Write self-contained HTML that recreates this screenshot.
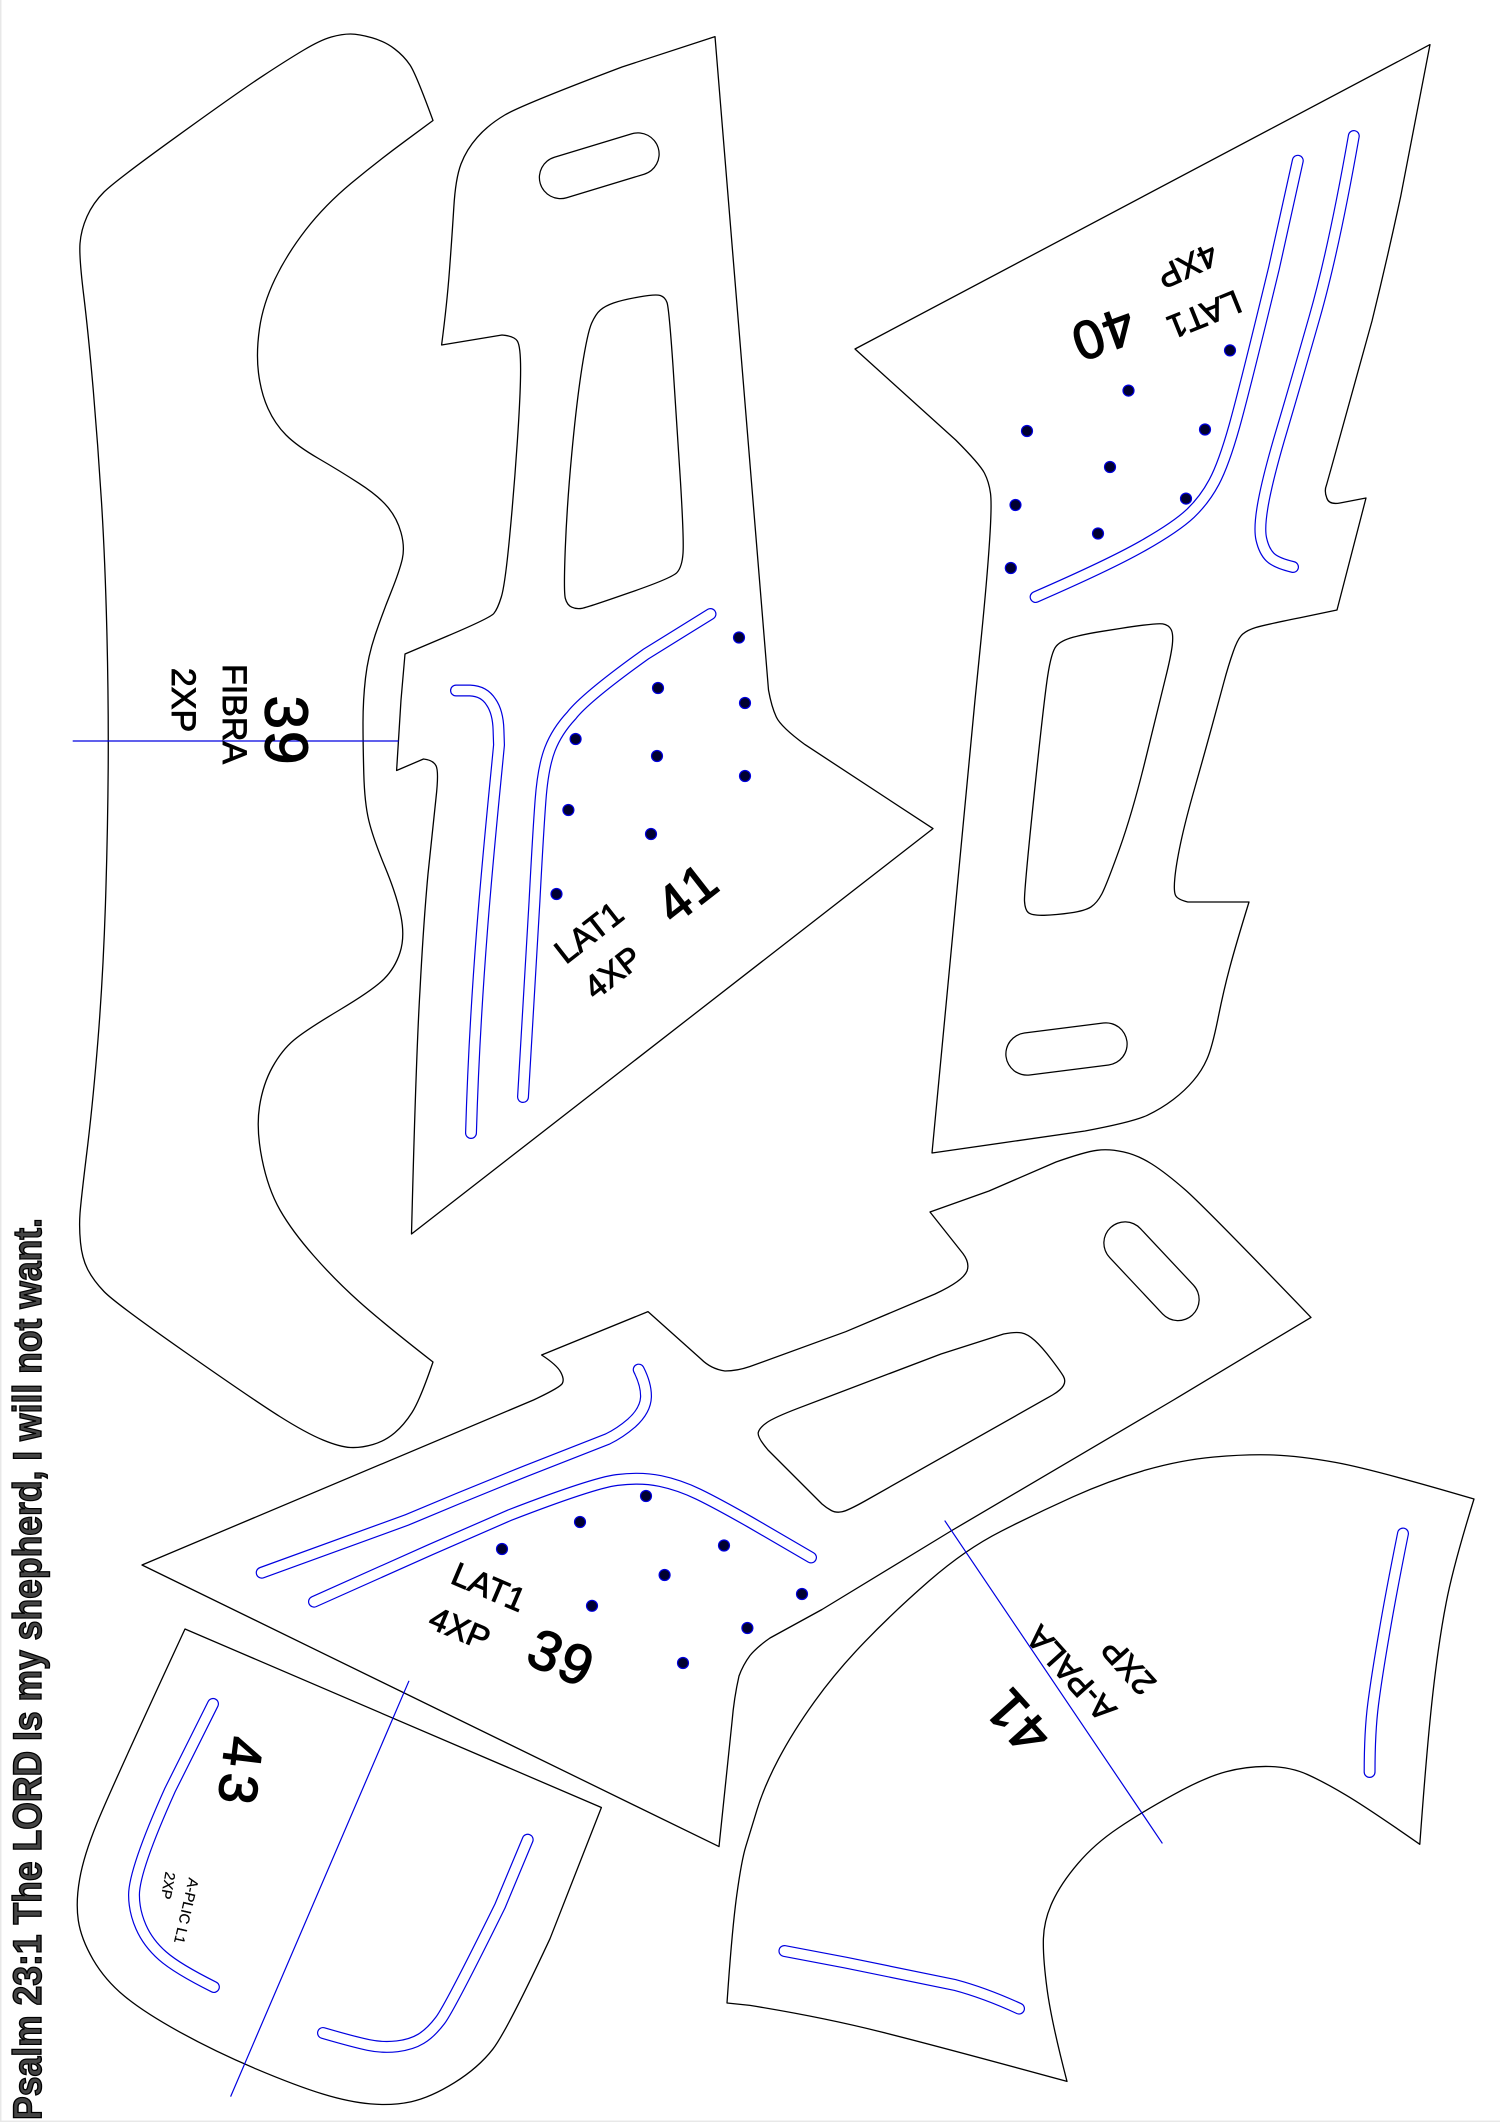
<!DOCTYPE html>
<html><head><meta charset="utf-8"><style>
html,body{margin:0;padding:0;background:#fff}
svg{display:block}
text{font-family:"Liberation Sans",sans-serif;fill:#000;stroke:#000;stroke-width:.9;text-anchor:middle}
.b{stroke-width:1.4;letter-spacing:2px}
.k{fill:none;stroke:#000;stroke-width:1.3;stroke-linejoin:round}
.l{stroke:#0000e0;stroke-width:1.2;fill:none}
.d{fill:#000030;stroke:#0000e0;stroke-width:1.2}
#s path{fill:none;stroke-linecap:round;stroke-linejoin:round}
#h path{fill:none;stroke-linecap:round}
</style></head><body>
<svg xmlns="http://www.w3.org/2000/svg" width="1500" height="2122" viewBox="0 0 1500 2122">
<rect width="1500" height="2122" fill="#fff"/>
<rect width="1.5" height="2122" fill="#e8e8e8"/>
<rect y="2120.5" width="1500" height="1.5" fill="#e8e8e8"/>
<defs>
<g id="s">
<path d="M456 690.5L470 690.5Q484 691 491 702Q498 712 498.5 730L499 745C493 810 476 960 471 1133"/>
<path d="M710.5 614L646 654Q586 697 571.5 715.5Q557 731 550 749Q543 767 540.5 800.5Q538 834 534.5 901L523 1097"/>
<path d="M1297.8 160.7L1274 268Q1245 388 1234.4 426Q1223.7 464 1214.1 482Q1204.5 500 1190.3 513.5Q1176 527 1142.5 546Q1109 565 1035.6 597"/>
<path d="M1353.8 136Q1333.7 250 1314.6 317Q1295.5 384 1282.3 428.5Q1269 473 1263.8 500Q1258.6 527 1261.3 539Q1264 551 1270 557Q1276 563 1293 567"/>
<path d="M638.7 1369.6Q646 1384 646 1396Q646 1410 631.6 1423Q620 1433 607.6 1439L526 1471Q466 1495 406.7 1520L261.7 1572.7"/>
<path d="M314 1601.7L430.6 1549.6L510 1515Q593 1483 617 1480Q641 1477 660.2 1481Q679.4 1485 698.6 1494.3Q717.7 1503.6 750 1522L811 1557.5"/>
<path d="M213 1703.9L170 1790Q134 1870 134 1895Q134 1911 141 1927Q148 1943 162.5 1955.8Q177 1968.6 213.9 1987"/>
<path d="M527.7 1839.7L500 1906Q449.8 2007.7 440.2 2020.4Q430.6 2033 421 2038.8Q411.5 2044.6 397.2 2046.3Q382.8 2048 368.4 2045Q354 2042 323 2033"/>
<path d="M1403 1533.5Q1391 1593 1384 1634.5Q1376.8 1676 1373.2 1703.8Q1369.6 1731.5 1369.6 1772"/>
<path d="M784.4 1951L845.7 1962.6L955 1985Q985 1993 1019 2008.6"/>
</g>
<g id="h">
<path d="M560.5 177.5L638 154"/>
<path d="M1027 1054L1106 1044"/>
<path d="M1125 1243L1178 1299.5"/>
</g>
</defs>

<!-- FIBRA 39 -->
<path class="k" d="M433 120.5Q416 74 410 65Q404 56 394.5 48.8Q385 41.5 372 37.8Q359 34 350.5 34Q342 34 331.3 37Q320.6 40 303.8 50Q287 60 263 75.8Q239 91.5 177 136.3Q115 181 104 192Q93 203 87 216.5Q81 230 80 243.5Q79 257 83.8 296Q88.5 335 93.3 390.5Q98 446 101.5 502Q105 558 106.8 629Q108.6 700 108.2 767Q107.7 834 105.4 905.5Q103 977 98 1039.5Q93 1102 87 1151Q81 1200 80 1213.5Q79 1227 80.5 1242.5Q82 1258 87.5 1269Q93 1280 104 1291.5Q115 1303 184.3 1351.5Q253.6 1400 279.8 1416.5Q306 1433 323 1440Q340 1447 350.5 1447.5Q361 1448 373 1444.5Q385 1441 394.5 1433Q404 1425 412 1412.5Q420 1400 433 1362Q383 1323 359 1301.5Q335 1280 313.5 1255.5Q292 1231 280 1210Q268 1189 262 1159Q256 1129 259.5 1106.5Q263 1084 272.5 1067Q282 1050 294 1040Q306 1030 339.5 1010Q373 990 384 979Q395 968 400 952.5Q405 937 401 916.5Q397 896 385 867Q373 838 368.8 820.5Q364.6 803 363.8 774Q363 745 363 722.5Q363 700 365.5 678Q368 656 375.5 634Q383 612 391.3 591.5Q399.5 571 402.3 559Q405 547 401 532.5Q397 518 387.5 506.8Q378 495.5 359 483.3Q340 471 318.5 458.5Q297 446 286 435Q275 424 268 408.5Q261 393 258.5 373Q256 353 259.5 328.5Q263 304 275 279Q287 254 306 229.5Q325 205 351.5 183Q378 161 405.5 140.8L433 120.5Z"/>

<!-- LAT1 41 -->
<path class="k" d="M715 36.6L622 67Q521.5 105 504.8 115Q488 125 477.3 137.3Q466.5 149.5 461 164Q455.5 178.6 453.8 207.6Q452 236.6 449.5 270Q447 303.6 441.6 345L502 335Q514 336 517.3 341Q520.6 346 520.6 369.5Q520.6 393 517.3 442Q514 491 509.5 538Q505 585 501.3 597Q497.6 609 493.8 613.5Q490 618 447.5 636L405 654L401 700L396.6 770.5L423.5 759Q433 760 436 765.7Q439 771.4 436 798Q433 825 428 874Q423.5 923 420 990Q416 1057 411.5 1234L933 828.6L805 744.6Q781 727 776.3 717Q771.5 706.7 768.5 690Z"/>
<path class="k" d="M638.8 297Q655.5 294 660.3 295.5Q665 297 667 302.5Q669 308 673 366Q677 424 680.5 482Q684 540 683 553.5Q682 567 677 572.5Q672 578 630 592.5Q588.5 607 582.5 608.2Q576.6 609.4 571.8 607.2Q567 605 565.3 598.3Q563.6 591.5 565.3 548Q567 504.5 571.8 453.3Q576.6 402 582 367.3Q587.5 332.6 591.6 323.3Q595.7 314 600.4 310Q605 306 613.5 303Q622 300 638.8 297Z"/>

<!-- LAT1 40 -->
<path class="k" d="M1430 44.6L855 349L955.7 440Q979.7 464 984.4 473Q989 482 990.5 493.3Q992 504.5 989.5 542Q987 580 981 640L975 700L932 1153L1085 1131Q1133 1122 1147.3 1115.3Q1161.5 1108.5 1173.3 1099.5Q1185 1090.6 1193.5 1080.5Q1202 1070.5 1207 1059Q1212 1048 1217.9 1019Q1223.7 990 1229.7 967.8Q1235.6 945.5 1249 902L1187.8 902Q1178 899.6 1175.8 895.8Q1173.5 892 1174.8 878.5Q1176 865 1180.7 842.8Q1185.4 820.5 1195 787Q1204.5 753.6 1211.8 726.8Q1219 700 1223.8 682.5Q1228.5 665 1233.3 651.5Q1238 638 1242.8 634Q1247.6 630 1255.8 627.5Q1264 625 1300 617.8L1337 610L1366 498L1340 503Q1329 505 1326.8 498Q1324 491 1326.5 485L1331 469L1372 321Q1387 260 1400.7 196.4Z"/>
<path class="k" d="M1120.9 628.4Q1156.7 622.8 1162.7 623.9Q1168.7 625 1171.1 629.5Q1173.5 634 1172.3 645Q1171 656 1165.5 678Q1160 700 1146.4 755.8Q1132.8 811.6 1119.7 848.3Q1106.5 885 1101.8 894Q1097 903 1091 906.9Q1085 910.7 1070.5 912.9Q1056 915 1044 915.3Q1032 915.6 1028.5 912.8Q1025 910 1024.5 901Q1024 892 1034 796Q1044 700 1047.7 675.9Q1051.4 651.8 1056.2 646.2Q1061 640.6 1073 637.3Q1085 634 1103 631.2Z"/>

<!-- LAT1 39 -->
<path class="k" d="M142 1565L533.5 1400Q560 1387.5 562.3 1383.5Q564.6 1379.5 560.8 1372.3Q557 1365 541.6 1355L648 1311.6L701 1359Q711 1369 725 1371Q737 1371 750 1366.5L845.7 1331.7L935 1294Q963 1281 967 1271Q970 1263 963 1253.6L930 1212L989 1191L1056 1162Q1085 1151.8 1097 1150.3Q1109 1148.7 1123.3 1151.9Q1137.6 1155 1151.8 1164Q1166 1173 1185.3 1189.9Q1204.5 1206.7 1311 1317.4L1173.5 1400L951 1531L822 1609.5L770 1638Q757 1647 750 1655.5Q743 1665 739 1676Q734 1698 732 1722L719 1846.6Z"/>
<path class="k" d="M941 1354L1003.6 1334Q1015.5 1331.7 1021.5 1332.9Q1027.5 1334 1034.8 1340.5Q1042 1347 1051.5 1359.5Q1061 1372 1063.5 1376.5Q1066 1381 1063.5 1385.5Q1061 1390 1052.5 1395L865 1501Q848 1510.5 842 1511.8Q836 1513 831.3 1510.5Q826.6 1508 822 1504L768 1450Q757 1437 758.3 1432.3Q759.6 1427.6 766.8 1422.6Q774 1417.5 798 1408.3Z"/>

<!-- 43 -->
<path class="k" d="M185 1629L601.4 1807.5L550 1938.7Q507 2030.7 492.8 2049.2Q478.5 2067.6 454.6 2082.6Q430.6 2097.5 411.3 2101.7Q392 2105.8 370.5 2103.9Q349 2102 322.8 2094Q296.6 2086 255.8 2068.8Q215 2051.5 179.3 2031.8Q143.5 2012 124.3 1996Q105 1980 93 1959.4Q81 1938.7 78.3 1920.4Q75.6 1902 79.7 1878.9Q83.7 1855.8 96.9 1823.4Q110 1791 185 1629Z"/>

<!-- A-PALA -->
<path class="k" d="M1474 1499Q1372 1469 1336 1462.5Q1300 1456 1273.8 1455Q1247.6 1454 1214.1 1457Q1180.6 1460 1144.8 1470.3Q1109 1480.6 1073 1496.8Q1037 1513 1001 1531.3Q965 1549.6 929.3 1580.8Q893.5 1612 864.8 1641.8Q836 1671.6 814.5 1701.6Q793 1731.5 778.5 1759.1Q764 1786.7 757 1809.8Q750 1832.8 745.8 1846.4Q741.6 1860 736.8 1894.8Q732 1929.5 727 2003L750 2005.4Q821.8 2017 881.4 2032Q941 2047 1067 2081.4Q1051.4 2021.5 1047.1 1989.3Q1042.8 1957 1043.4 1938.5Q1044 1920 1052.5 1901.7Q1061 1883.4 1077.8 1863.7Q1094.5 1844 1118.3 1828Q1142 1812 1173.3 1794.8Q1204.5 1777.5 1226 1771.8Q1247.6 1766 1269.2 1766.5Q1290.7 1767 1307.4 1774.5Q1324 1782 1345.5 1794.8Q1367 1807.5 1419.8 1844.3Q1427 1745 1433 1692.2Q1439 1639.4 1446.2 1602.6Q1453.3 1565.7 1474 1499Z"/>

<!-- holes -->
<use href="#h" stroke="#000" stroke-width="43.5"/>
<use href="#h" stroke="#fff" stroke-width="41"/>
<!-- blue slots -->
<use href="#s" stroke="#0000e0" stroke-width="12"/>
<use href="#s" stroke="#fff" stroke-width="9.6"/>

<!-- blue lines -->
<path class="l" d="M72.7 741H398.6M409 1680.8L230.6 2096.6M944.7 1520.6L1162.4 1843.4"/>

<!-- dots -->
<g class="d">
<circle cx="739" cy="637.5" r="5.5"/><circle cx="658" cy="688" r="5.5"/><circle cx="745" cy="703" r="5.5"/><circle cx="575.6" cy="739" r="5.5"/><circle cx="657" cy="756" r="5.5"/><circle cx="745" cy="776" r="5.5"/><circle cx="568.4" cy="810" r="5.5"/><circle cx="651" cy="834" r="5.5"/><circle cx="556.5" cy="894" r="5.5"/>
<circle cx="1230" cy="350.4" r="5.5"/><circle cx="1128.5" cy="390.6" r="5.5"/><circle cx="1027" cy="431" r="5.5"/><circle cx="1205" cy="429.5" r="5.5"/><circle cx="1110" cy="467" r="5.5"/><circle cx="1015.5" cy="505" r="5.5"/><circle cx="1186" cy="498.6" r="5.5"/><circle cx="1098" cy="533.5" r="5.5"/><circle cx="1010.8" cy="568" r="5.5"/>
<circle cx="502" cy="1549" r="5.5"/><circle cx="580" cy="1522" r="5.5"/><circle cx="646" cy="1496" r="5.5"/><circle cx="724" cy="1545.5" r="5.5"/><circle cx="664.6" cy="1575" r="5.5"/><circle cx="592" cy="1605.8" r="5.5"/><circle cx="747.4" cy="1628" r="5.5"/><circle cx="683" cy="1663" r="5.5"/><circle cx="802" cy="1594" r="5.5"/>
</g>

<!-- labels -->
<text class="b" transform="translate(287,731) rotate(90)" font-size="60" dy=".36em">39</text>
<text transform="translate(235,714) rotate(90)" font-size="34" dy=".36em">FIBRA</text>
<text transform="translate(184,700) rotate(90)" font-size="34" dy=".36em">2XP</text>

<text transform="translate(588.5,932) rotate(-38)" font-size="33" dy=".36em">LAT1</text>
<text transform="translate(612.5,972) rotate(-38)" font-size="33" dy=".36em">4XP</text>
<text class="b" transform="translate(687,892) rotate(-38)" font-size="52" dy=".36em">41</text>

<text transform="translate(1204.5,315) rotate(158)" font-size="33" dy=".36em">LAT1</text>
<text transform="translate(1187.8,266.5) rotate(155)" font-size="33" dy=".36em">4XP</text>
<text class="b" transform="translate(1103,335) rotate(160)" font-size="54" dy=".36em">40</text>

<text transform="translate(489,1586.5) rotate(23)" font-size="33" dy=".36em">LAT1</text>
<text transform="translate(460,1628) rotate(23)" font-size="33" dy=".36em">4XP</text>
<text class="b" transform="translate(562,1657) rotate(23)" font-size="56" dy=".36em">39</text>

<text class="b" transform="translate(241,1774) rotate(97)" font-size="54" style="letter-spacing:7px" dy=".36em">43</text>
<text style="stroke-width:.2" transform="translate(186.6,1911) rotate(103)" font-size="14.5" dy=".36em">A-PLIC L1</text>
<text style="stroke-width:.2" transform="translate(168.4,1885.7) rotate(100)" font-size="14.5" dy=".36em">2XP</text>

<text class="b" transform="translate(1017,1722) rotate(228)" font-size="56" dy=".36em">41</text>
<text transform="translate(1070.6,1674) rotate(228)" font-size="33" dy=".36em">A-PALA</text>
<text transform="translate(1128,1667) rotate(228)" font-size="33" dy=".36em">2XP</text>

<text transform="translate(41,2120) rotate(-90)" font-size="40" font-weight="700" style="text-anchor:start;fill:#444;stroke:#000;stroke-width:1.4" textLength="902" lengthAdjust="spacingAndGlyphs">Psalm 23:1 The LORD Is my shepherd, I will not want.</text>
</svg>
</body></html>
